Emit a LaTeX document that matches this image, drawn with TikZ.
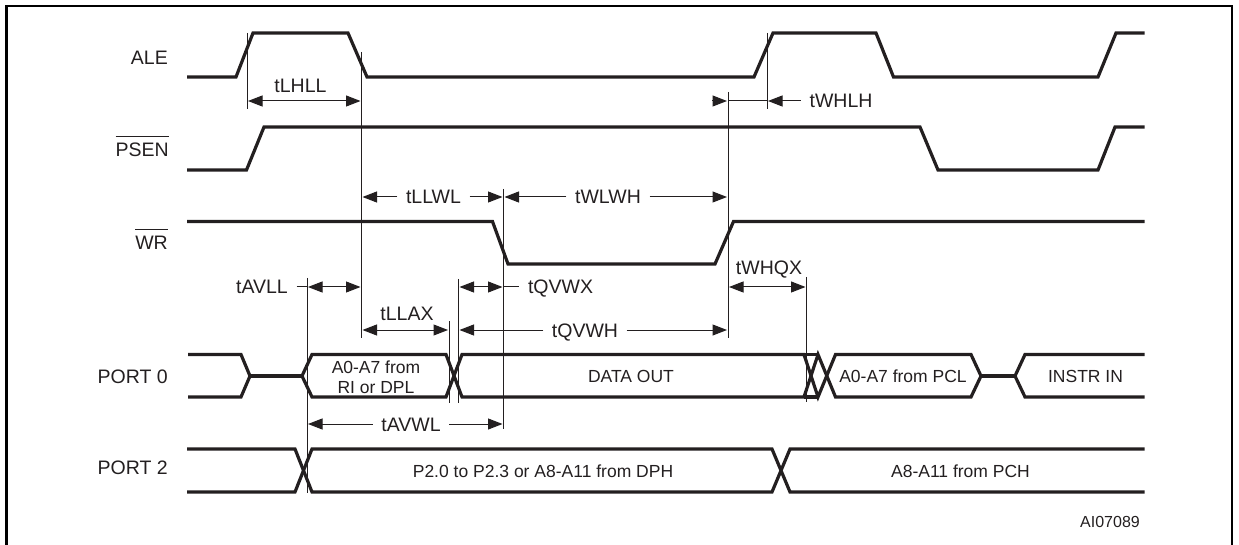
\documentclass[tikz,border=0pt]{standalone}
\usepackage{fontspec}
\setmainfont{Liberation Sans}
\usetikzlibrary{arrows.meta}
\definecolor{ink}{HTML}{231F20}
\newcommand{\barred}[1]{$\overline{\rule{0pt}{19.5pt}\mbox{#1}}$}

\begin{document}
\begin{tikzpicture}[x=1pt,y=-1pt,
  every node/.style={text=ink},
  sig/.style={draw=ink,line width=3.2pt,line join=miter,miter limit=3},
  tick/.style={draw=ink,line width=0.9pt},
  dim/.style={draw=ink,line width=1pt},
  dimto/.style={dim,-{Triangle[length=14.5pt,width=11pt]},shorten >=1pt},
  dimboth/.style={dim,{Triangle[length=14.5pt,width=11pt]}-{Triangle[length=14.5pt,width=11pt]},shorten >=1pt,shorten <=1pt},
  lbl/.style={font=\fontsize{19.5}{21}\selectfont,inner xsep=8.5pt,inner ysep=0pt,text height=14pt,text depth=0pt},
  signame/.style={font=\fontsize{19.5}{21}\selectfont,inner sep=0pt,anchor=east},
  cell/.style={font=\fontsize{17.5}{21}\selectfont,inner sep=0pt}]
  \useasboundingbox (0,0) rectangle (1239,545);
  % frame
  \draw[black,line width=2.4pt] (6.5,545) -- (6.5,6) -- (1232,6) -- (1232,545);
  % signal names
  \node[signame] (ale) at (168,58) {ALE};
  \node[signame] (psen) at (169,146) {\barred{PSEN}};
  \node[signame] (wr) at (168,239) {\barred{WR}};
  \node[signame] (port0) at (168,376.5) {PORT 0};
  \node[signame] (port2) at (168,468) {PORT 2};
  % waveforms
  \draw[sig] (187,77) -- (236,77) -- (253,33) -- (348,33) -- (367,77) -- (754,77)
    -- (773,33) -- (876,33) -- (893.5,77) -- (1098,77) -- (1116,33) -- (1144.5,33);
  \draw[sig] (187,170) -- (246.5,170) -- (264,127) -- (920,127) -- (938,170)
    -- (1098,170) -- (1115,127) -- (1144.5,127);
  \draw[sig] (187,221.5) -- (492.5,221.5) -- (508,264) -- (715,264) -- (733.5,221.5) -- (1144.5,221.5);
  % port 0
  \draw[sig] (188,354.5) -- (241,354.5) -- (250,376) -- (241,397) -- (188,397);
  \draw[sig] (250,376) -- (302,376);
  \draw[sig] (302,376) -- (312,354.5) -- (446,354.5) -- (462,397) -- (804,397) -- (818,354.5) -- (835.5,397) -- (971,397) -- (981,376);
  \draw[sig] (302,376) -- (312,397) -- (446,397) -- (462,354.5) -- (804,354.5) -- (818,397) -- (835.5,354.5) -- (971,354.5) -- (981,376);
  \draw[sig] (804,354.5) -- (818,354.5);
  \draw[sig] (804,397) -- (818,397);
  \draw[sig] (981,376) -- (1015,376);
  \draw[sig] (1144.5,354.5) -- (1025,354.5) -- (1015,376) -- (1025,397) -- (1144.5,397);
  % port 2
  \draw[sig] (187,449) -- (295,449) -- (312,492) -- (772,492) -- (790,449) -- (1144.5,449);
  \draw[sig] (187,492) -- (295,492) -- (312,449) -- (772,449) -- (790,492) -- (1144.5,492);
  % cell texts
  \node[cell] (a0rl) at (376,367) {A0-A7 from};
  \node[cell] (a0r2) at (376,388) {RI or DPL};
  \node[cell] (dout) at (631,376) {DATA OUT};
  \node[cell] (a0pcl) at (903,376) {A0-A7 from PCL};
  \node[cell] (instr) at (1085.5,376) {INSTR IN};
  \node[cell] (a8dph) at (543,471) {P2.0 to P2.3 or A8-A11 from DPH};
  \node[cell] (a8pch) at (960.5,471) {A8-A11 from PCH};
  \node[font=\fontsize{16}{18}\selectfont,inner sep=0pt] (ref) at (1110,521.5) {AI07089};
  % reference lines
  \coordinate (v1) at (247,0);
  \coordinate (v2) at (361.5,0);
  \coordinate (v3) at (503.5,0);
  \coordinate (v4) at (767,0);
  \coordinate (v5) at (728,0);
  \coordinate (v6) at (806.5,0);
  \coordinate (v7) at (307,0);
  \coordinate (v8) at (449,0);
  \coordinate (v9) at (458.5,0);
  \draw[tick] (247,33) -- (247,109);
  \draw[tick] (361.5,52) -- (361.5,338);
  \draw[tick] (503.5,189) -- (503.5,429);
  \draw[tick] (767,33) -- (767,109);
  \draw[tick] (728,92) -- (728,338);
  \draw[tick] (806.5,277) -- (806.5,402);
  \draw[tick] (307,278) -- (307,493);
  \draw[tick] (449,321) -- (449,403);
  \draw[tick] (458.5,279) -- (458.5,403);
  % timing labels
  \node[lbl] (tlhll) at (300.5,86) {tLHLL};
  \node[lbl] (twhlh) at (841,101) {tWHLH};
  \node[lbl] (tllwl) at (433.5,197) {tLLWL};
  \node[lbl] (twlwh) at (608,197) {tWLWH};
  \node[lbl] (tavll) at (262,287) {tAVLL};
  \node[lbl] (tqvwx) at (560.5,287) {tQVWX};
  \node[lbl] (twhqx) at (769,268) {tWHQX};
  \node[lbl] (tllax) at (407,313) {tLLAX};
  \node[lbl] (tqvwh) at (585,330) {tQVWH};
  \node[lbl] (tavwl) at (411,424) {tAVWL};
  % timing arrows
  \coordinate (dlhll) at (0,101);
  \coordinate (dwhqx) at (0,287);
  \coordinate (dllax) at (0,330);
  \coordinate (twhlhs) at (712,101);
  \draw[dimboth] (dlhll -| v1) -- (dlhll -| v2);
  \draw[dimto] (twhlhs) -- (twhlhs -| v5);
  \draw[dim] (twhlhs -| v5) -- (twhlhs -| v4);
  \draw[dimto] (twhlh.west) -- (twhlh.west -| v4);
  \draw[dimto] (tllwl.west) -- (tllwl.west -| v2);
  \draw[dimto] (tllwl.east) -- (tllwl.east -| v3);
  \draw[dimto] (twlwh.west) -- (twlwh.west -| v3);
  \draw[dimto] (twlwh.east) -- (twlwh.east -| v5);
  \draw[dim] (tavll.east) -- (tavll.east -| v7);
  \draw[dimboth] (tavll.east -| v7) -- (tavll.east -| v2);
  \draw[dimboth] (tqvwx.west -| v9) -- (tqvwx.west -| v3);
  \draw[dim] (tqvwx.west -| v3) -- (tqvwx.west);
  \draw[dimboth] (dwhqx -| v5) -- (dwhqx -| v6);
  \draw[dimboth] (dllax -| v2) -- (dllax -| v8);
  \draw[dimto] (tqvwh.west) -- (tqvwh.west -| v9);
  \draw[dimto] (tqvwh.east) -- (tqvwh.east -| v5);
  \draw[dimto] (tavwl.west) -- (tavwl.west -| v7);
  \draw[dimto] (tavwl.east) -- (tavwl.east -| v3);
\end{tikzpicture}
\end{document}
